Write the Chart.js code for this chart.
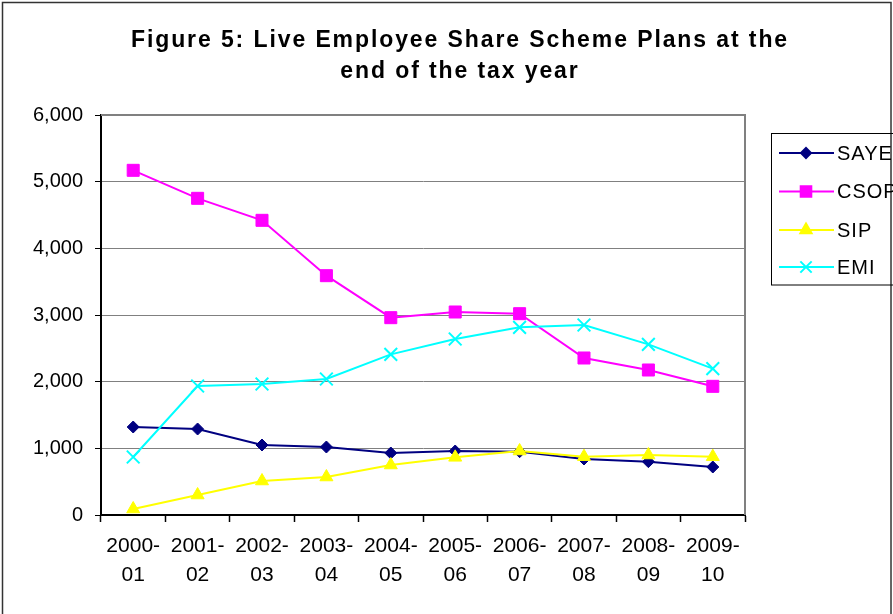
<!DOCTYPE html>
<html>
<head>
<meta charset="utf-8">
<script src="https://cdn.jsdelivr.net/npm/chart.js@4"></script>
<style>
  html, body { margin: 0; padding: 0; background: #fff; }
  canvas { display: block; }
</style>
</head>
<body>
<canvas id="myChart" width="893" height="614"></canvas>
<script>
var taxYears = ["2000-01", "2001-02", "2002-03", "2003-04", "2004-05",
                "2005-06", "2006-07", "2007-08", "2008-09", "2009-10"];
var sayeValues = [1320, 1290, 1050, 1020, 930, 960, 950, 840, 800, 720];
var csopValues = [5170, 4750, 4420, 3590, 2960, 3045, 3020, 2355, 2175, 1930];
var sipValues = [90, 300, 510, 570, 750, 865, 960, 875, 900, 875];
var emiValues = [870, 1935, 1965, 2040, 2410, 2640, 2815, 2850, 2560, 2195];
var yTicks = [0, 1000, 2000, 3000, 4000, 5000, 6000];
var titleLines = ["Figure 5: Live Employee Share Scheme Plans at the", "end of the tax year"];

// "2000-01" -> ["2000-", "01"] so the label wraps after the dash
var xLabels = taxYears.map(function (y) {
    return [y.slice(0, 5), y.slice(5)];
});

var FONT = "'Liberation Sans', Arial, sans-serif";

// frame, plot border, title and the boxed legend on the right
var decorations = {
    id: "decorations",
    afterDraw: function (chart) {
        var ctx = chart.ctx;
        var area = chart.chartArea;
        ctx.save();

        // outer frame
        ctx.strokeStyle = "#333";
        ctx.lineWidth = 1.5;
        ctx.strokeRect(2.5, 2.5, 888.5, 700);

        // plot area top and right edges
        ctx.strokeStyle = "#808080";
        ctx.lineWidth = 2;
        ctx.beginPath();
        ctx.moveTo(area.left, area.top);
        ctx.lineTo(area.right, area.top);
        ctx.lineTo(area.right, area.bottom);
        ctx.stroke();

        // title
        ctx.fillStyle = "#000";
        ctx.font = "bold 23px " + FONT;
        ctx.letterSpacing = "1.9px";
        ctx.textAlign = "center";
        ctx.textBaseline = "alphabetic";
        ctx.fillText(titleLines[0], 460, 47);
        ctx.fillText(titleLines[1], 460, 78);

        // legend
        ctx.letterSpacing = "1px";
        ctx.strokeStyle = "#000";
        ctx.lineWidth = 1;
        ctx.strokeRect(771.5, 133.5, 140, 151.5);
        var rowY = [153, 191.5, 230, 267];
        ctx.font = "20px " + FONT;
        ctx.textAlign = "left";
        ctx.textBaseline = "middle";
        chart.data.datasets.forEach(function (ds, i) {
            var y = rowY[i];
            ctx.strokeStyle = ds.borderColor;
            ctx.lineWidth = 2;
            ctx.beginPath();
            ctx.moveTo(779, y);
            ctx.lineTo(834, y);
            ctx.stroke();
            ctx.fillStyle = ds.pointBackgroundColor;
            ctx.strokeStyle = ds.pointBorderColor;
            Chart.helpers.drawPoint(ctx, {
                pointStyle: ds.pointStyle,
                radius: ds.pointRadius - 1,
                rotation: 0,
                borderWidth: ds.pointBorderWidth
            }, 806, y);
            ctx.fillStyle = "#000";
            ctx.fillText(ds.label, 837, y + 1);
        });
        ctx.letterSpacing = "0px";

        ctx.restore();
    }
};

function series(label, values, color, style, radius, order) {
    return {
        label: label,
        data: values,
        borderColor: color,
        backgroundColor: color,
        borderWidth: 2,
        pointStyle: style,
        pointRadius: radius,
        pointHoverRadius: radius,
        pointBackgroundColor: color,
        pointBorderColor: color,
        pointBorderWidth: style === "crossRot" ? 2 : 1,
        tension: 0,
        fill: false,
        order: order
    };
}

new Chart("myChart", {
    type: "line",
    data: {
        labels: xLabels,
        datasets: [
            series("SAYE", sayeValues, "#000080", "rectRot", 6, 4),
            series("CSOP", csopValues, "#FF00FF", "rect", 8.5, 3),
            series("SIP", sipValues, "#FFFF00", "triangle", 7.5, 2),
            series("EMI", emiValues, "#00FFFF", "crossRot", 9, 1)
        ]
    },
    options: {
        responsive: false,
        animation: false,
        devicePixelRatio: 1,
        layout: { padding: { top: 115, right: 148, left: 0, bottom: 0 } },
        plugins: {
            legend: { display: false },
            title: { display: false },
            tooltip: { enabled: false }
        },
        scales: {
            x: {
                offset: true,
                afterFit: function (scale) { scale.height = 99; },
                grid: {
                    offset: true,
                    drawOnChartArea: false,
                    tickLength: 7,
                    tickColor: "#000",
                    tickWidth: 1.5
                },
                border: { color: "#000", width: 2 },
                ticks: {
                    color: "#000",
                    font: { family: FONT, size: 21, lineHeight: 1.37 },
                    padding: 10,
                    maxRotation: 0,
                    autoSkip: false
                }
            },
            y: {
                min: yTicks[0],
                max: yTicks[yTicks.length - 1],
                afterFit: function (scale) { scale.width = 101; },
                afterBuildTicks: function (scale) {
                    scale.ticks = yTicks.map(function (v) { return { value: v }; });
                },
                grid: {
                    color: "#808080",
                    lineWidth: 1,
                    tickLength: 6,
                    tickColor: "#000"
                },
                border: { color: "#000", width: 2 },
                ticks: {
                    color: "#000",
                    font: { family: FONT, size: 20 },
                    padding: 12,
                    callback: function (v) { return v.toLocaleString("en-US"); }
                }
            }
        }
    },
    plugins: [decorations]
});
</script>
</body>
</html>
